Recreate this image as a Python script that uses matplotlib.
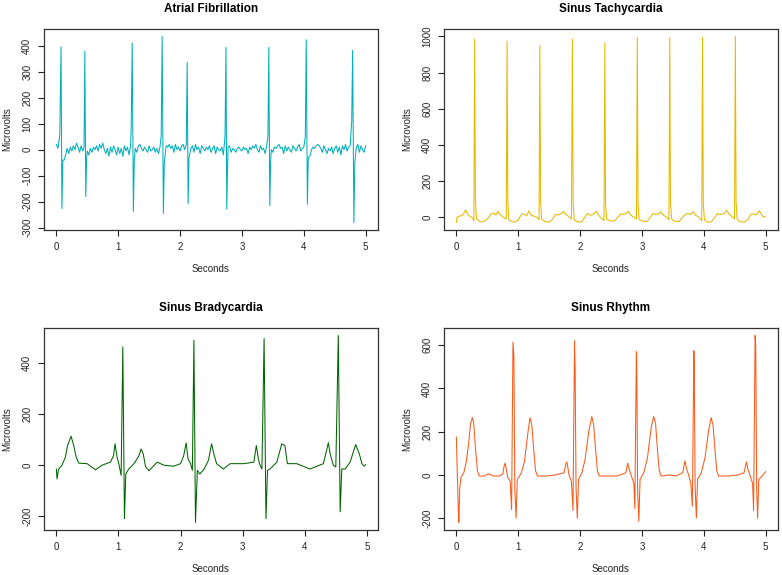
import numpy as np
import matplotlib.pyplot as plt

plt.rcParams['font.family'] = ['Liberation Sans', 'DejaVu Sans']
plt.rcParams['axes.unicode_minus'] = False

# --- Atrial Fibrillation: noisy baseline sampled every 0.025 s, plus the spikes ---
af_base_t = np.arange(0, 5.001, 0.025)
af_base_v = [20, 5, 0, 40, 10, -40, -20, 5, -15, 10, -5, 15, 0, 25, 10, -10, 15, -5, 0, 10,
             -5, -20, 5, -10, 10, 0, 15, -5, 20, 5, 25, 0, -15, 5, -25, 10, -10, 15, 0, -20,
             10, -15, 5, -25, 15, -5, 10, -20, 15, 0, 10, 5, -10, 15, 20, 5, -5, 10, 0, -10,
             15, -5, 0, 10, -10, 5, -15, 10, 0, 5, -20, 15, 10, 20, 5, 15, -10, 20, 0, 10,
             -5, 15, 20, 0, -10, 10, -20, 5, 15, -10, 20, 0, 10, -15, 15, 5, -5, 10, 0, 15,
             -10, 5, 15, -15, 10, 0, -5, 10, -20, 5, 0, 10, 15, -10, 5, 0, -10, 5, 10, 0,
             -5, 10, 0, 5, -15, 10, 0, 15, 5, 20, 0, -10, 15, 0, 5, -15, 15, -5, 10, 0,
             -10, 10, 5, 15, 20, 5, 10, -15, 15, -5, 10, 0, -10, 15, 5, -5, 10, 20, -5, 5,
             10, 0, 5, -10, -25, 0, 10, 5, 15, 20, 15, 5, -10, 15, 0, -15, 5, -5, 10, -15,
             5, 15, -10, 10, -20, 15, 0, 20, -5, 10, 15, 0, -5, -15, 10, 20, -10, 15, 0, -10,
             15]
af_spike_t = [0.055, 0.075, 0.09, 0.105, 0.447, 0.46, 0.475, 0.49,
              1.21, 1.226, 1.245, 1.26, 1.695, 1.71, 1.73, 1.745,
              2.1, 2.115, 2.13, 2.145, 2.727, 2.742, 2.755, 2.77,
              3.42, 3.435, 3.45, 3.465, 4.025, 4.04, 4.058, 4.073,
              4.775, 4.79, 4.81, 4.825]
af_spike_v = [55, 395, -226, -40, 10, 378, -180, -30,
              85, 410, -237, -40, 52, 435, -245, -50,
              20, 335, -207, -30, 52, 393, -228, -35,
              50, 393, -215, -40, 50, 422, -210, -30,
              110, 382, -280, -50]

# --- Sinus Tachycardia ---
tachy_t = [0.0, 0.01, 0.05, 0.1, 0.15, 0.18, 0.22, 0.26, 0.283,
           0.296, 0.308, 0.325, 0.39, 0.46, 0.53, 0.55, 0.6, 0.64, 0.67, 0.72, 0.76, 0.807,
           0.82, 0.832, 0.85, 0.9, 0.95, 1.0, 1.06, 1.1, 1.14, 1.17, 1.21, 1.26, 1.3, 1.337,
           1.35, 1.362, 1.38, 1.43, 1.5, 1.56, 1.6, 1.64, 1.7, 1.73, 1.77, 1.81, 1.86,
           1.876, 1.888, 1.905, 1.95, 2.02, 2.07, 2.12, 2.17, 2.22, 2.26, 2.3, 2.34, 2.387,
           2.4, 2.412, 2.43, 2.48, 2.55, 2.6, 2.66, 2.7, 2.74, 2.78, 2.82, 2.87, 2.912,
           2.925, 2.937, 2.955, 3.0, 3.08, 3.13, 3.18, 3.22, 3.27, 3.3, 3.35, 3.4, 3.437,
           3.45, 3.462, 3.48, 3.52, 3.6, 3.65, 3.7, 3.74, 3.79, 3.83, 3.87, 3.92, 3.967,
           3.98, 3.992, 4.01, 4.05, 4.12, 4.17, 4.22, 4.27, 4.33, 4.37, 4.41, 4.45, 4.497,
           4.51, 4.522, 4.54, 4.58, 4.66, 4.72, 4.76, 4.8, 4.85, 4.9, 4.94, 4.97, 5.0]
tachy_v = [-30, 0, 5, 10, 40, 15, 5, -5, -20,
           985, 85, -10, -27, -22, 0, 15, 22, 12, 32, 10, -2, -10,
           975, 85, -15, -25, -28, -15, 18, 15, 8, 35, 10, 5, 0, -15,
           950, 80, -10, -25, -28, -10, 15, 12, 20, 32, 15, 5, -10,
           985, 80, -15, -25, -28, -5, 20, 10, 18, 32, 10, -5, -20,
           965, 70, -10, -20, -22, -5, 18, 15, 20, 32, 10, 0, -10,
           995, 80, -10, -22, -25, -5, 20, 15, 18, 30, 10, 0, -15,
           995, 80, -10, -22, -25, -5, 15, 20, 15, 30, 10, 0, -20,
           995, 80, -15, -28, -27, -5, 20, 15, 20, 38, 15, 5, -10,
           1000, 85, -10, -25, -28, -10, 15, 18, 12, 35, 10, 0, 5]

# --- Sinus Bradycardia ---
brady_t = [0.0, 0.01, 0.037, 0.09, 0.145, 0.18, 0.236, 0.28, 0.32, 0.36, 0.495, 0.63, 0.735,
           0.87, 0.92, 0.945, 0.978, 1.005, 1.043, 1.07, 1.096, 1.118, 1.166, 1.25, 1.33,
           1.365, 1.4, 1.435, 1.49, 1.623, 1.73, 1.89, 2.0, 2.05, 2.09, 2.12, 2.16, 2.19,
           2.215, 2.24, 2.27, 2.31, 2.38, 2.45, 2.5, 2.54, 2.58, 2.69, 2.8, 3.02, 3.18,
           3.22, 3.25, 3.27, 3.31, 3.345, 3.375, 3.4, 3.44, 3.55, 3.63, 3.68, 3.72, 3.87,
           4.085, 4.3, 4.38, 4.41, 4.46, 4.5, 4.54, 4.57, 4.596, 4.65, 4.73, 4.82, 4.88,
           4.92, 4.958, 4.98]
brady_v = [-15, -54, -15, 0, 31, 77, 114, 77, 31, 8, 6, -18, 0,
           12, 37, 84, 31, 6, -40, 464, -210, -34, -15, 6, 37,
           64, 43, -5, -22, 12, 0, -4, 6, 37, 87, 25, 6, -20,
           490, -225, -20, -35, -15, 20, 84, 40, 6, -15, 6, 6, 12,
           77, 31, 6, -15, 497, -210, -20, -15, 12, 84, 77, 6, 6,
           -15, 6, 88, 43, 0, -7, 509, -183, -15, -15, 12, 81, 43,
           6, -4, 2]

# --- Sinus Rhythm ---
rhythm_t = [0.0, 0.01, 0.03, 0.04, 0.055, 0.075, 0.12, 0.16, 0.2, 0.23, 0.26, 0.28, 0.31,
            0.34, 0.37, 0.45, 0.52, 0.6, 0.7, 0.75, 0.775, 0.79, 0.805, 0.83, 0.87,
            0.893, 0.915, 0.93, 0.945, 0.965, 0.985, 1.01, 1.05, 1.1, 1.15, 1.19, 1.22,
            1.25, 1.28, 1.31, 1.45, 1.6, 1.74, 1.77, 1.785, 1.8, 1.82, 1.86,
            1.885, 1.91, 1.92, 1.935, 1.955, 1.975, 2.03, 2.08, 2.14, 2.19, 2.22, 2.25,
            2.28, 2.31, 2.45, 2.6, 2.74, 2.77, 2.79, 2.83, 2.87,
            2.885, 2.91, 2.915, 2.93, 2.95, 2.97, 3.03, 3.09, 3.15, 3.19, 3.22, 3.25,
            3.28, 3.31, 3.45, 3.55, 3.66, 3.695, 3.72, 3.76, 3.79,
            3.815, 3.84, 3.845, 3.86, 3.88, 3.9, 3.96, 4.02, 4.08, 4.12, 4.15, 4.18,
            4.21, 4.24, 4.4, 4.55, 4.65, 4.69, 4.71, 4.75, 4.79,
            4.805, 4.83, 4.84, 4.855, 4.87, 4.89, 4.93, 4.97, 5.0]
rhythm_v = [175, 60, -150, -220, -60, -10, 10, 60, 150, 240, 265, 240, 120,
            20, -5, -5, 5, -5, -5, 5, 45, 55, 30, -10, -30,
            -160, 615, 550, -60, -200, -20, -10, 10, 60, 180, 265, 230,
            120, 20, -5, -5, 0, 10, 50, 60, 40, 0, -30,
            -165, 620, 490, -60, -200, -20, 10, 70, 200, 270, 230, 120,
            20, -5, -5, -5, 10, 55, 30, -5, -40,
            -155, 570, 560, -60, -215, -20, 10, 80, 220, 270, 240, 120,
            20, -5, 0, -5, 10, 65, 30, -5, -40,
            -145, 575, 520, -50, -200, -20, 10, 80, 210, 265, 230, 120,
            20, -5, -5, 0, 10, 60, 30, -5, -40,
            -165, 645, 600, -60, -200, -20, -10, 5, 15]

# merge AF baseline with spikes (drop baseline samples that fall inside a spike)
af_t = np.asarray(af_base_t)
af_v = np.asarray(af_base_v, dtype=float)
keep = np.ones(len(af_t), dtype=bool)
for i in range(0, len(af_spike_t), 4):
    keep &= ~((af_t >= af_spike_t[i] - 0.005) & (af_t <= af_spike_t[i + 3] + 0.005))
af_t = np.concatenate([af_t[keep], af_spike_t])
af_v = np.concatenate([af_v[keep], af_spike_v])
order = np.argsort(af_t)
af_t, af_v = af_t[order], af_v[order]

panels = [
    ('Atrial Fibrillation', af_t, af_v, '#00AFBB', np.arange(-300, 401, 100)),
    ('Sinus Tachycardia', tachy_t, tachy_v, '#E7B800', np.arange(0, 1001, 200)),
    ('Sinus Bradycardia', brady_t, brady_v, '#006400', np.arange(-200, 401, 200)),
    ('Sinus Rhythm', rhythm_t, rhythm_v, '#FC5A1A', np.arange(-200, 601, 200)),
]

fig = plt.figure(figsize=(7.82, 5.75), dpi=100)
boxes = [[44, 29, 334, 201], [444, 29, 334, 201], [44, 328, 334, 202], [444, 328, 334, 202]]

for (title, t, v, col, yt), (x0, y0, w, h) in zip(panels, boxes):
    ax = fig.add_axes([x0 / 782, 1 - (y0 + h) / 575, w / 782, h / 575])
    ax.plot(t, v, color=col, linewidth=0.75)
    ax.margins(x=0.04, y=0.04)
    ax.set_xticks(range(6))
    ax.set_yticks(yt)
    ax.set_title(title, fontsize=8.5, fontweight='bold', pad=12)
    ax.set_xlabel('Seconds', fontsize=7, color='#222222')
    ax.set_ylabel('Microvolts', fontsize=7, color='#222222')
    ax.xaxis.set_label_coords(0.5, -34 / h)
    ax.yaxis.set_label_coords(-32 / w, 0.5)
    ax.tick_params(direction='out', length=4.5, width=0.8, labelsize=7,
                   pad=4, colors='#222222')
    ax.tick_params(axis='y', labelrotation=90)
    plt.setp(ax.get_yticklabels(), va='center')
    for s in ax.spines.values():
        s.set_color('#333333')
        s.set_linewidth(0.9)

fig.savefig('out.png', dpi=100)
